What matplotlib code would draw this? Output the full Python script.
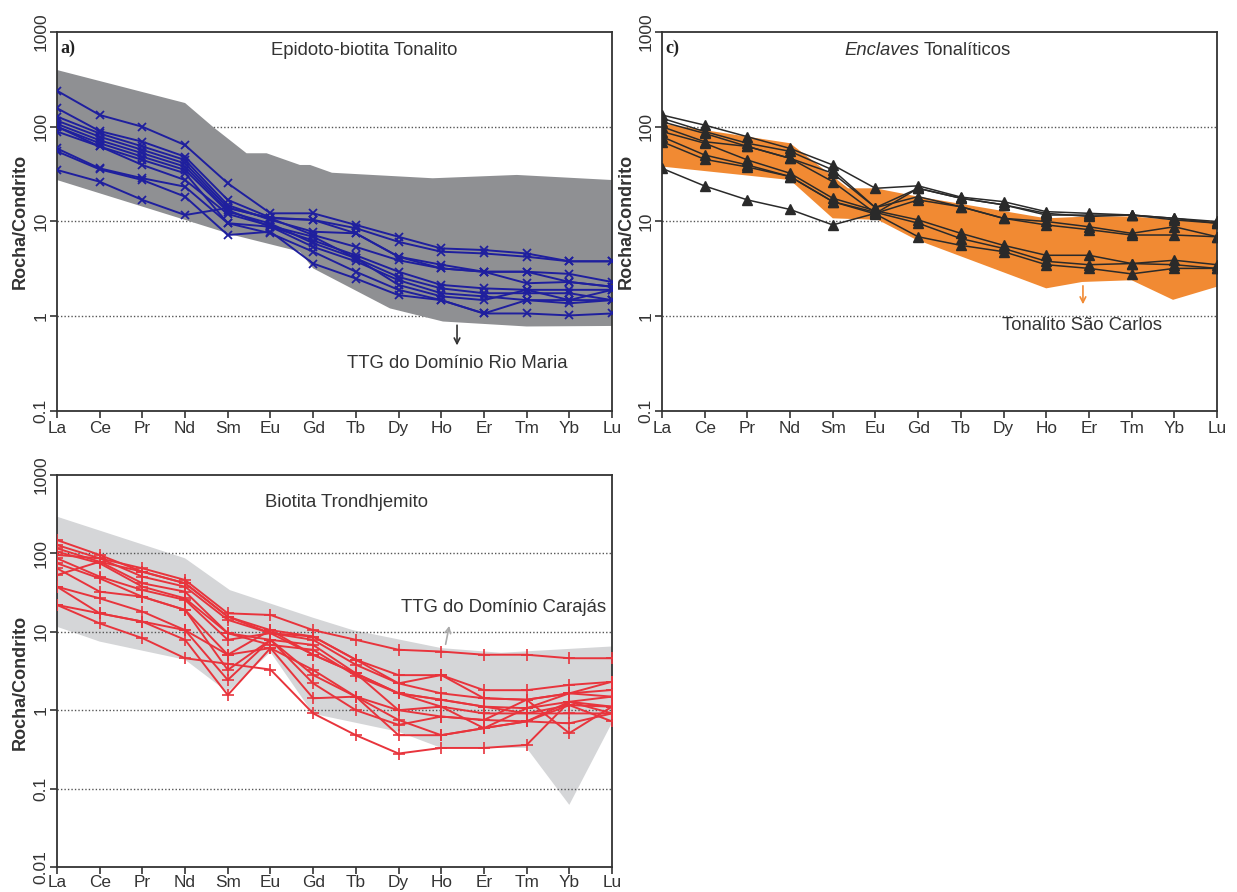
import matplotlib
matplotlib.use("Agg")
import matplotlib.pyplot as plt
from matplotlib.ticker import NullLocator

plt.rcParams['font.family'] = ['Liberation Sans', 'DejaVu Sans']

elements = ["La", "Ce", "Pr", "Nd", "Sm", "Eu", "Gd", "Tb", "Dy", "Ho", "Er", "Tm", "Yb", "Lu"]

# --- Epidoto-biotita Tonalito (chondrite-normalised REE) ---
tonalito_samples = [
    [240, 133, 100, 64, 25.3, 12.2, 12.2, 9.2, 6.9, 5.2, 5.0, 4.6, 3.8, 3.8],
    [157, 90, 69.5, 48.3, 16.9, 11, 10.4, 8.5, 6.1, 4.8, 4.6, 4.25, 3.8, 3.8],
    [128, 85, 62, 44.6, 14.9, 10.4, 7.8, 7.5, 4.25, 3.5, 2.95, 2.95, 2.8, 2.3],
    [116, 78.5, 57, 41, 14, 10.8, 7.2, 5.4, 3.9, 3.2, 2.95, 2.23, 2.3, 2.05],
    [107, 72, 52.5, 37.9, 13.2, 8.8, 6.3, 4.4, 2.95, 2.14, 1.97, 1.9, 1.9, 1.9],
    [100, 67, 48.3, 35, 12.7, 9.5, 5.9, 4.1, 2.6, 1.97, 1.75, 1.75, 1.75, 1.48],
    [89, 62, 44.6, 32.3, 9.6, 8.8, 5.4, 3.8, 2.4, 1.75, 1.62, 1.48, 1.37, 1.48],
    [100, 62, 39.5, 27.4, 12, 9, 6.9, 4.1, 2.14, 1.62, 1.48, 1.9, 1.48, 1.9],
    [59, 36.4, 28.6, 23.3, 9.6, 7.5, 4.8, 2.95, 1.9, 1.48, 1.07, 1.07, 1.02, 1.07],
    [55, 35.5, 27.4, 18.3, 7.2, 7.8, 3.6, 2.5, 1.67, 1.48, 1.07, 1.48, 1.48, 1.48],
    [35, 26.3, 16.9, 11.7, 13.9, 10.8, 10.4, 7.5, 4.25, 3.2, 2.95, 2.95, 2.3, 2.05],
]
# TTG do Dominio Rio Maria field
rio_maria_top_x = [0, 3, 3.65, 4.44, 4.91, 5.69, 5.93, 6.44, 8.8, 10.77, 13]
rio_maria_top_y = [397, 178, 100, 52.5, 52.5, 39.5, 39.5, 32.7, 28.6, 31, 27.4]
rio_maria_bot_x = [0, 3, 4.13, 5.69, 6.0, 7.8, 9.04, 11.0, 13]
rio_maria_bot_y = [27.4, 10.4, 7.2, 4.8, 3.2, 1.21, 0.88, 0.78, 0.79]

# --- Enclaves Tonaliticos ---
enclave_samples = [
    [133, 104, 78.5, 59, 39.5, 22.4, 23.8, 18.1, 16.2, 12.7, 12.2, 11.7, 10.8, 10],
    [123, 89, 67, 55, 35, 14, 22.4, 17.6, 15, 12.2, 11.3, 11.7, 10.8, 9.6],
    [113, 85, 62, 46.4, 32.3, 14, 18.3, 14.3, 10.8, 10, 8.8, 7.5, 8.8, 6.9],
    [100, 69.5, 62, 46.4, 26.3, 12.2, 16.9, 14.3, 10.8, 9.2, 8.2, 7.2, 7.2, 6.9],
    [89, 67, 44.6, 32.3, 17.6, 13, 10.4, 7.5, 5.6, 4.4, 4.4, 3.6, 3.9, 3.5],
    [78.5, 50.3, 39.5, 29.8, 16.2, 12.5, 9.6, 6.6, 5.2, 3.8, 3.5, 3.6, 3.5, 3.2],
    [69.5, 45.3, 37.6, 29.8, 16.2, 12, 6.9, 5.6, 4.8, 3.5, 3.2, 2.8, 3.2, 3.2],
    [36.4, 23.7, 16.9, 13.4, 9.2, 12.2, 22.4, 17.6, 15, 11.7, 11.7, 11.7, 10.4, 9.6],
]
# Tonalito Sao Carlos field
sao_carlos_top_x = [0, 3, 4.36, 5.0, 6, 9, 10, 11, 12, 13]
sao_carlos_top_y = [108, 67, 22.4, 22.4, 18.3, 10.8, 11.3, 11.3, 10.4, 10]
sao_carlos_bot_x = [0, 3, 4, 5.06, 5.93, 9, 9.84, 11, 11.97, 13]
sao_carlos_bot_y = [38, 27.4, 10.8, 10.4, 6.5, 1.97, 2.3, 2.4, 1.49, 2.05]

# --- Biotita Trondhjemito ---
trondhjemito_samples = [
    [95.5, 86.5, 64.5, 45.8, 17.2, 16.4, 10.5, 7.9, 5.9, 5.6, 5.1, 5.1, 4.6, 4.6],
    [148, 95.5, 58.4, 41.6, 15.6, 10.5, 8.7, 4.4, 2.8, 2.8, 1.8, 1.8, 2.1, 2.3],
    [128, 86.5, 50.5, 37.6, 14.2, 9.6, 7.9, 3.8, 2.2, 1.64, 1.42, 1.36, 1.64, 1.81],
    [116, 78.3, 41.6, 32.5, 9.6, 7.9, 6.8, 2.95, 1.64, 1.36, 1.11, 1.06, 1.28, 1.49],
    [105, 74.8, 37.6, 26.7, 9.6, 6.8, 5.9, 2.74, 1.64, 1.11, 0.91, 0.91, 1.16, 1.11],
    [86.5, 50.5, 34.1, 25.5, 7.9, 9.6, 5.1, 2.95, 1.0, 0.83, 0.75, 1.36, 0.51, 1.11],
    [74.8, 48, 28, 19, 5.1, 6.2, 3.26, 1.49, 1.0, 1.11, 0.59, 0.72, 1.28, 0.91],
    [53, 78.3, 58.4, 41.6, 15.6, 9.6, 8.7, 4.4, 2.2, 2.81, 1.42, 1.36, 1.64, 2.31],
    [64.5, 32.5, 28, 19, 3.26, 7.9, 2.81, 1.49, 0.75, 0.48, 0.59, 1.06, 1.64, 1.49],
    [37.6, 26.7, 18.1, 10.5, 2.43, 7.9, 2.2, 1.0, 0.65, 0.83, 0.75, 0.72, 1.16, 0.72],
    [37.6, 17.2, 13.5, 7.9, 1.56, 6.2, 1.42, 1.49, 0.48, 0.48, 0.59, 0.72, 0.68, 0.91],
    [22, 12.8, 8.3, 4.6, 3.9, 3.3, 0.91, 0.48, 0.28, 0.33, 0.33, 0.36, 1.28, 1.11],
    [22, 17.2, 13.5, 10.5, 5.1, 10.5, 5.1, 2.95, 1.64, 1.36, 1.11, 0.91, 0.91, 0.91],
]
# TTG do Dominio Carajas field
carajas_top_x = [0, 3, 4.05, 6, 6.93, 9, 10.4, 13]
carajas_top_y = [294, 86.5, 34, 15.1, 10.5, 6.2, 5.4, 6.5]
carajas_bot_x = [0, 1, 3, 4, 5, 6, 8, 9, 11, 12, 13]
carajas_bot_y = [11.6, 7.5, 4.4, 1.7, 5.5, 0.9, 0.53, 0.33, 0.33, 0.062, 0.69]

W, H = 1237, 892
fig = plt.figure(figsize=(W / 100, H / 100), dpi=100)

TXT = '#333333'
FS = 13.3


def px_axes(left, top, right, bottom):
    return fig.add_axes([left / W, 1 - bottom / H, (right - left) / W, (bottom - top) / H])


def style_axes(ax, ymin, ymax, grid_vals, grid_z, xpad):
    ax.set_yscale('log')
    ax.set_xlim(0, 13)
    ax.set_ylim(ymin, ymax)
    ax.set_xticks(range(len(elements)))
    ax.set_xticklabels(elements)
    decades = []
    v = ymin
    while v <= ymax * 1.0001:
        decades.append(v)
        v *= 10
    ax.set_yticks(decades)
    ax.set_yticklabels(["%g" % d for d in decades], rotation=90, va='center')
    ax.yaxis.set_minor_locator(NullLocator())
    ax.tick_params(axis='both', direction='out', length=5, width=1.2, colors=TXT,
                   labelcolor=TXT)
    ax.tick_params(axis='x', pad=xpad, labelsize=12.4)
    ax.tick_params(axis='y', pad=1.2, labelsize=12.5)
    for s in ax.spines.values():
        s.set_color(TXT)
        s.set_linewidth(1.3)
    for g in grid_vals:
        ax.axhline(g, color='#555555', lw=1.0, ls=(0, (1, 1.5)), zorder=grid_z)
    ax.set_ylabel("Rocha/Condrito", fontsize=13, fontweight='bold', color=TXT)


def envelope(ax, tx, ty, bx, by, color, z):
    xs = list(tx) + list(bx)[::-1]
    ys = list(ty) + list(by)[::-1]
    ax.fill(xs, ys, color=color, lw=0, zorder=z)


x = list(range(len(elements)))

# ---------- a) ----------
ax_a = px_axes(57, 32, 612, 411)
style_axes(ax_a, 0.1, 1000, [1, 10, 100], 0.5, 2.5)
envelope(ax_a, rio_maria_top_x, rio_maria_top_y, rio_maria_bot_x, rio_maria_bot_y, '#8f9093', 1)
for s in tonalito_samples:
    ax_a.plot(x, s, color='#1f1f9e', lw=1.4, marker='x', ms=5.5, mew=1.3, zorder=3)
ax_a.yaxis.set_label_coords(-0.05, 0.5)
ax_a.text(0.553, 0.952, "Epidoto-biotita Tonalito", transform=ax_a.transAxes,
          ha='center', va='center', fontsize=FS, color=TXT)
ax_a.text(0.006, 0.958, "a)", transform=ax_a.transAxes, ha='left', va='center',
          fontsize=13, fontweight='bold', family='Liberation Serif', color='#222222')
ax_a.annotate("", xy=(9.37, 0.46), xytext=(9.37, 0.86),
              arrowprops=dict(arrowstyle='->', color=TXT, lw=1.2), zorder=4)
ax_a.text(9.37, 0.32, "TTG do Domínio Rio Maria", ha='center', va='center',
          fontsize=FS, color=TXT)

# ---------- c) ----------
ax_c = px_axes(662, 32, 1217, 411)
style_axes(ax_c, 0.1, 1000, [1, 10, 100], 0.5, 2.5)
envelope(ax_c, sao_carlos_top_x, sao_carlos_top_y, sao_carlos_bot_x, sao_carlos_bot_y, '#f18a33', 1)
for s in enclave_samples:
    ax_c.plot(x, s, color='#2a2a2a', lw=1.1, marker='^', ms=6.5, zorder=3)
ax_c.yaxis.set_label_coords(-0.05, 0.5)
ax_c.text(0.464, 0.952, "Enclaves", transform=ax_c.transAxes, ha='right', va='center',
          fontsize=FS, style='italic', color=TXT)
ax_c.text(0.471, 0.952, "Tonalíticos", transform=ax_c.transAxes, ha='left', va='center',
          fontsize=FS, color=TXT)
ax_c.text(0.006, 0.958, "c)", transform=ax_c.transAxes, ha='left', va='center',
          fontsize=13, fontweight='bold', family='Liberation Serif', color='#222222')
ax_c.annotate("", xy=(9.86, 1.25), xytext=(9.86, 2.24),
              arrowprops=dict(arrowstyle='->', color='#f18a33', lw=1.2), zorder=4)
ax_c.text(9.84, 0.79, "Tonalito São Carlos", ha='center', va='center',
          fontsize=FS, color=TXT)

# ---------- b) ----------
ax_b = px_axes(57, 475, 612, 867)
style_axes(ax_b, 0.01, 1000, [0.1, 1, 10, 100], 2, 0.8)
envelope(ax_b, carajas_top_x, carajas_top_y, carajas_bot_x, carajas_bot_y, '#d5d6d8', 1)
for s in trondhjemito_samples:
    ax_b.plot(x, s, color='#e8343c', lw=1.4, marker='+', ms=8, mew=1.2, zorder=3)
ax_b.yaxis.set_label_coords(-0.05, 0.47)
ax_b.text(0.5225, 0.929, "Biotita Trondhjemito", transform=ax_b.transAxes,
          ha='center', va='center', fontsize=FS, color=TXT)
ax_b.annotate("", xy=(9.2, 12.9), xytext=(9.09, 6.4),
              arrowprops=dict(arrowstyle='->', color='#aaaaaa', lw=1.2), zorder=4)
ax_b.text(10.47, 20.7, "TTG do Domínio Carajás", ha='center', va='center',
          fontsize=FS, color=TXT)

fig.savefig("out.png", dpi=100)
